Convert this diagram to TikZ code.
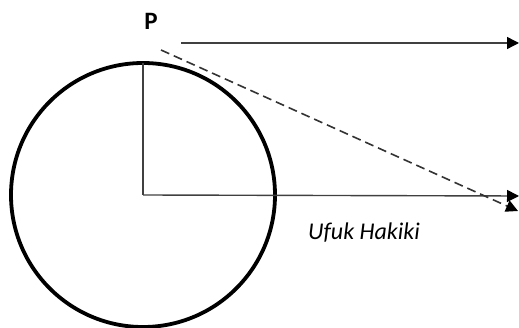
\documentclass[tikz,border=0pt]{standalone}
\usepackage{fontspec}
\setmainfont{Carlito}
\usetikzlibrary{arrows.meta}
\begin{document}
\begin{tikzpicture}[x=1pt,y=-1pt,>={Triangle[length=12pt,width=12pt,color=black]},line width=1.4pt]
  \useasboundingbox (0,0) rectangle (519,328);
  % earth and its centre
  \coordinate (O) at (143,195);
  \coordinate (T) at (143,63);
  \draw[line width=3.8pt] (O) circle (132);
  \node[font=\bfseries\fontsize{25}{25}\selectfont] (P) at (151,21) {P};
  % lines
  \coordinate (topstart) at (181,43);
  \coordinate (topend) at (519,43);
  \coordinate (horend) at (519,196);
  \coordinate (dashstart) at (161,50);
  \coordinate (dashend) at (518,211);
  \draw[black!75] (T) -- (O);
  \draw[black!75,->] (O) -- (horend);
  \draw[black!75,->] (topstart) -- (topend);
  \draw[black!80,dash pattern=on 9pt off 5pt,line width=1.6pt,->] (dashstart) -- (dashend);
  \node[font=\itshape\fontsize{24}{24}\selectfont] (ufuk) at (364,233) {Ufuk Hakiki};
\end{tikzpicture}
\end{document}
